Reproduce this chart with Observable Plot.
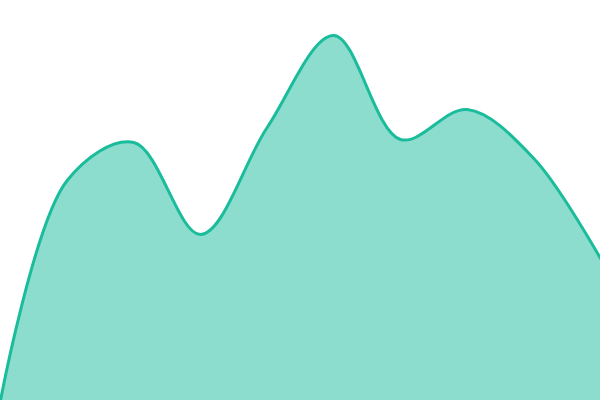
<!DOCTYPE html>
<html>
<head>
<meta charset="utf-8">
<script src="https://cdn.jsdelivr.net/npm/d3@7"></script>
<script src="https://cdn.jsdelivr.net/npm/@observablehq/plot@0.6"></script>
<style>
  html, body { margin: 0; padding: 0; background: #fff; }
</style>
</head>
<body>
<div id="chart"></div>
<script>
const steps = [0, 1, 2, 3, 4, 5, 6, 7, 8, 9];
const values = [0, 55, 64.5, 41.5, 68.25, 91.25, 65.25, 72.75, 60.5, 35.5];

const data = steps.map((s, i) => ({ x: s, y: values[i] }));

const chart = Plot.plot({
  width: 600,
  height: 400,
  margin: 0,
  x: { domain: [0, 9], axis: null },
  y: { domain: [0, 100], axis: null },
  marks: [
    Plot.areaY(data, { x: "x", y: "y", curve: "catmull-rom", fill: "#1abc9c", fillOpacity: 0.5 }),
    Plot.lineY(data, { x: "x", y: "y", curve: "catmull-rom", stroke: "#1abc9c", strokeWidth: 3 })
  ]
});
document.getElementById("chart").appendChild(chart);
</script>
</body>
</html>
